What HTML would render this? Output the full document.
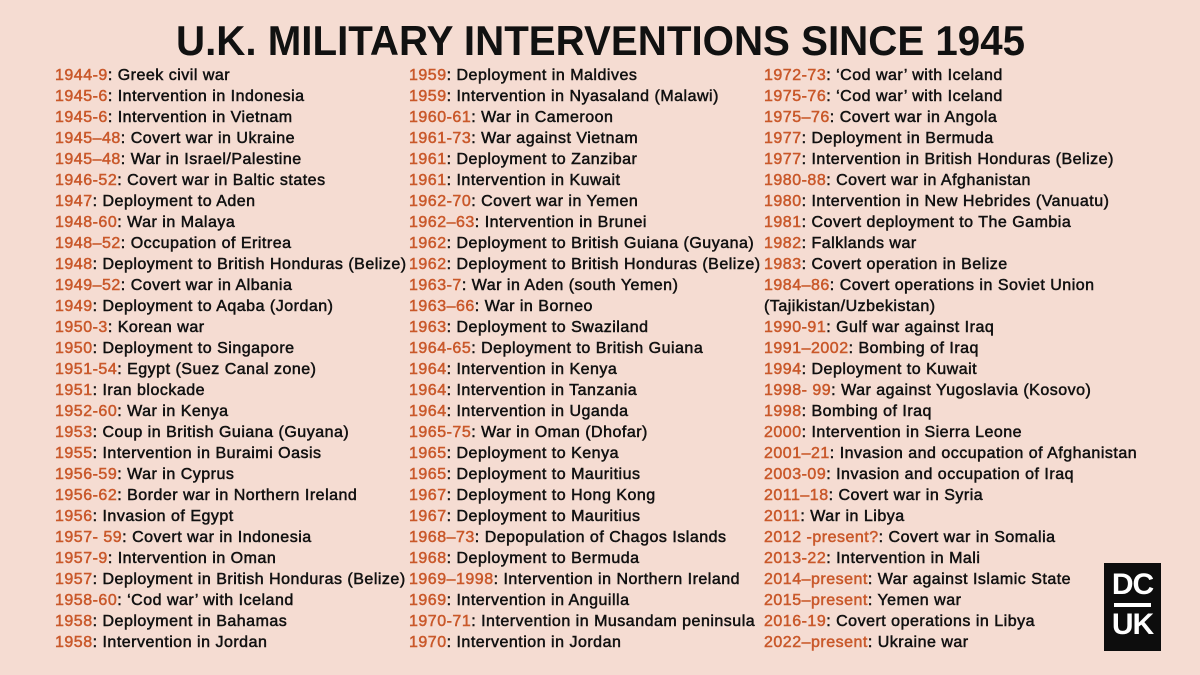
<!DOCTYPE html>
<html><head><meta charset="utf-8"><style>
html,body{margin:0;padding:0}
body{width:1200px;height:675px;background:#f5dcd2;position:relative;overflow:hidden;font-family:"Liberation Sans",sans-serif}
.col{position:absolute;top:65px}
.r{height:21px;line-height:21px;font-size:16px;letter-spacing:0.5px;color:#111;white-space:nowrap;-webkit-text-stroke:0.5px #111}
.r b{font-weight:normal;color:#c9582a;-webkit-text-stroke:0.5px #c9582a}
#logo{position:absolute;left:1104px;top:563px;width:57px;height:88px;background:#0d0d0d;color:#fff;font-weight:bold;text-align:center}
</style></head><body>
<svg style="position:absolute;left:0;top:0" width="1200" height="62">
<text x="176" y="55" textLength="849" lengthAdjust="spacingAndGlyphs" font-family="Liberation Sans" font-weight="bold" font-size="42" fill="#111">U.K. MILITARY INTERVENTIONS SINCE 1945</text></svg>

<div class="col" style="left:55px">
<div class="r"><b>1944-9</b>: Greek civil war</div>
<div class="r"><b>1945-6</b>: Intervention in Indonesia</div>
<div class="r"><b>1945-6</b>: Intervention in Vietnam</div>
<div class="r"><b>1945–48</b>: Covert war in Ukraine</div>
<div class="r"><b>1945–48</b>: War in Israel/Palestine</div>
<div class="r"><b>1946-52</b>: Covert war in Baltic states</div>
<div class="r"><b>1947</b>: Deployment to Aden</div>
<div class="r"><b>1948-60</b>: War in Malaya</div>
<div class="r"><b>1948–52</b>: Occupation of Eritrea</div>
<div class="r"><b>1948</b>: Deployment to British Honduras (Belize)</div>
<div class="r"><b>1949–52</b>: Covert war in Albania</div>
<div class="r"><b>1949</b>: Deployment to Aqaba (Jordan)</div>
<div class="r"><b>1950-3</b>: Korean war</div>
<div class="r"><b>1950</b>: Deployment to Singapore</div>
<div class="r"><b>1951-54</b>: Egypt (Suez Canal zone)</div>
<div class="r"><b>1951</b>: Iran blockade</div>
<div class="r"><b>1952-60</b>: War in Kenya</div>
<div class="r"><b>1953</b>: Coup in British Guiana (Guyana)</div>
<div class="r"><b>1955</b>: Intervention in Buraimi Oasis</div>
<div class="r"><b>1956-59</b>: War in Cyprus</div>
<div class="r"><b>1956-62</b>: Border war in Northern Ireland</div>
<div class="r"><b>1956</b>: Invasion of Egypt</div>
<div class="r"><b>1957- 59</b>: Covert war in Indonesia</div>
<div class="r"><b>1957-9</b>: Intervention in Oman</div>
<div class="r"><b>1957</b>: Deployment in British Honduras (Belize)</div>
<div class="r"><b>1958-60</b>: ‘Cod war’ with Iceland</div>
<div class="r"><b>1958</b>: Deployment in Bahamas</div>
<div class="r"><b>1958</b>: Intervention in Jordan</div>
</div>

<div class="col" style="left:409px">
<div class="r"><b>1959</b>: Deployment in Maldives</div>
<div class="r"><b>1959</b>: Intervention in Nyasaland (Malawi)</div>
<div class="r"><b>1960-61</b>: War in Cameroon</div>
<div class="r"><b>1961-73</b>: War against Vietnam</div>
<div class="r"><b>1961</b>: Deployment to Zanzibar</div>
<div class="r"><b>1961</b>: Intervention in Kuwait</div>
<div class="r"><b>1962-70</b>: Covert war in Yemen</div>
<div class="r"><b>1962–63</b>: Intervention in Brunei</div>
<div class="r"><b>1962</b>: Deployment to British Guiana (Guyana)</div>
<div class="r"><b>1962</b>: Deployment to British Honduras (Belize)</div>
<div class="r"><b>1963-7</b>: War in Aden (south Yemen)</div>
<div class="r"><b>1963–66</b>: War in Borneo</div>
<div class="r"><b>1963</b>: Deployment to Swaziland</div>
<div class="r"><b>1964-65</b>: Deployment to British Guiana</div>
<div class="r"><b>1964</b>: Intervention in Kenya</div>
<div class="r"><b>1964</b>: Intervention in Tanzania</div>
<div class="r"><b>1964</b>: Intervention in Uganda</div>
<div class="r"><b>1965-75</b>: War in Oman (Dhofar)</div>
<div class="r"><b>1965</b>: Deployment to Kenya</div>
<div class="r"><b>1965</b>: Deployment to Mauritius</div>
<div class="r"><b>1967</b>: Deployment to Hong Kong</div>
<div class="r"><b>1967</b>: Deployment to Mauritius</div>
<div class="r"><b>1968–73</b>: Depopulation of Chagos Islands</div>
<div class="r"><b>1968</b>: Deployment to Bermuda</div>
<div class="r"><b>1969–1998</b>: Intervention in Northern Ireland</div>
<div class="r"><b>1969</b>: Intervention in Anguilla</div>
<div class="r"><b>1970-71</b>: Intervention in Musandam peninsula</div>
<div class="r"><b>1970</b>: Intervention in Jordan</div>
</div>

<div class="col" style="left:764px">
<div class="r"><b>1972-73</b>: ‘Cod war’ with Iceland</div>
<div class="r"><b>1975-76</b>: ‘Cod war’ with Iceland</div>
<div class="r"><b>1975–76</b>: Covert war in Angola</div>
<div class="r"><b>1977</b>: Deployment in Bermuda</div>
<div class="r"><b>1977</b>: Intervention in British Honduras (Belize)</div>
<div class="r"><b>1980-88</b>: Covert war in Afghanistan</div>
<div class="r"><b>1980</b>: Intervention in New Hebrides (Vanuatu)</div>
<div class="r"><b>1981</b>: Covert deployment to The Gambia</div>
<div class="r"><b>1982</b>: Falklands war</div>
<div class="r"><b>1983</b>: Covert operation in Belize</div>
<div class="r"><b>1984–86</b>: Covert operations in Soviet Union</div>
<div class="r">(Tajikistan/Uzbekistan)</div>
<div class="r"><b>1990-91</b>: Gulf war against Iraq</div>
<div class="r"><b>1991–2002</b>: Bombing of Iraq</div>
<div class="r"><b>1994</b>: Deployment to Kuwait</div>
<div class="r"><b>1998- 99</b>: War against Yugoslavia (Kosovo)</div>
<div class="r"><b>1998</b>: Bombing of Iraq</div>
<div class="r"><b>2000</b>: Intervention in Sierra Leone</div>
<div class="r"><b>2001–21</b>: Invasion and occupation of Afghanistan</div>
<div class="r"><b>2003-09</b>: Invasion and occupation of Iraq</div>
<div class="r"><b>2011–18</b>: Covert war in Syria</div>
<div class="r"><b>2011</b>: War in Libya</div>
<div class="r"><b>2012 -present?</b>: Covert war in Somalia</div>
<div class="r"><b>2013-22</b>: Intervention in Mali</div>
<div class="r"><b>2014–present</b>: War against Islamic State</div>
<div class="r"><b>2015–present</b>: Yemen war</div>
<div class="r"><b>2016-19</b>: Covert operations in Libya</div>
<div class="r"><b>2022–present</b>: Ukraine war</div>
</div>

<div id="logo">
<div style="font-size:30px;line-height:30px;margin-top:7px;letter-spacing:-1px">DC</div>
<div style="height:4px;background:#fff;margin:3px 10px 3px 10px"></div>
<div style="font-size:30px;line-height:30px;letter-spacing:-1px">UK</div>
</div>
</body></html>
